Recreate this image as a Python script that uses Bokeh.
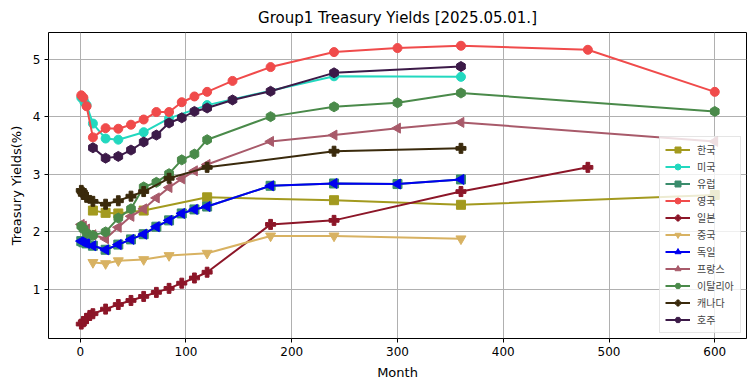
import numpy as np
from bokeh.plotting import figure
from bokeh.models import Range1d, Legend, LegendItem, FixedTicker
from bokeh.embed import file_html
from bokeh.resources import INLINE

# ---- data (months, yields %) ----
kr_m = [12, 24, 36, 60, 120, 240, 360, 600]
kr_y = [2.37, 2.33, 2.32, 2.37, 2.60, 2.55, 2.47, 2.64]

us_m = [1, 2, 3, 4, 6, 12, 24, 36, 60, 84, 120, 240, 360]
us_y = [4.33, 4.32, 4.30, 4.25, 4.20, 3.88, 3.62, 3.60, 3.73, 3.97, 4.20, 4.70, 4.69]

eu_m = [1, 3, 6, 12, 24, 36, 48, 60, 72, 84, 96, 108, 120, 180, 240, 300, 360]
eu_y = [1.84, 1.82, 1.80, 1.76, 1.69, 1.78, 1.87, 1.96, 2.09, 2.20, 2.32, 2.39, 2.44, 2.80, 2.84, 2.83, 2.91]

uk_m = [1, 3, 6, 12, 24, 36, 48, 60, 72, 84, 96, 108, 120, 144, 180, 240, 300, 360, 480, 600]
uk_y = [4.37, 4.33, 4.18, 3.64, 3.80, 3.79, 3.86, 3.95, 4.08, 4.08, 4.25, 4.35, 4.43, 4.62, 4.86, 5.12, 5.19, 5.23, 5.16, 4.43]

jp_m = [1, 3, 6, 9, 12, 24, 36, 48, 60, 72, 84, 96, 108, 120, 180, 240, 360, 480]
jp_y = [0.40, 0.44, 0.50, 0.55, 0.58, 0.66, 0.74, 0.81, 0.88, 0.95, 1.02, 1.11, 1.20, 1.30, 2.13, 2.20, 2.70, 3.12]

cn_m = [12, 24, 36, 60, 84, 120, 180, 240, 360]
cn_y = [1.47, 1.45, 1.50, 1.52, 1.59, 1.63, 1.93, 1.93, 1.88]

de_m = [1, 3, 6, 12, 24, 36, 48, 60, 72, 84, 96, 108, 120, 180, 240, 300, 360]
de_y = [1.84, 1.82, 1.80, 1.76, 1.69, 1.78, 1.87, 1.96, 2.09, 2.20, 2.32, 2.39, 2.44, 2.80, 2.84, 2.83, 2.91]

fr_m = [1, 3, 6, 12, 24, 36, 48, 60, 72, 84, 96, 108, 120, 180, 240, 300, 360, 600]
fr_y = [2.13, 2.10, 2.05, 1.95, 1.88, 2.08, 2.27, 2.40, 2.59, 2.77, 2.92, 3.06, 3.17, 3.57, 3.68, 3.80, 3.90, 3.57]

it_m = [1, 3, 6, 12, 24, 36, 48, 60, 72, 84, 96, 108, 120, 180, 240, 300, 360, 600]
it_y = [2.10, 2.05, 1.98, 1.94, 2.00, 2.24, 2.40, 2.78, 2.86, 3.01, 3.25, 3.35, 3.60, 4.00, 4.17, 4.24, 4.41, 4.09]

ca_m = [1, 2, 3, 6, 12, 24, 36, 48, 60, 84, 120, 240, 360]
ca_y = [2.72, 2.69, 2.65, 2.60, 2.53, 2.48, 2.54, 2.62, 2.70, 2.93, 3.12, 3.40, 3.45]

au_m = [12, 24, 36, 48, 60, 72, 84, 96, 108, 120, 144, 180, 240, 360]
au_y = [3.46, 3.28, 3.31, 3.42, 3.56, 3.68, 3.89, 3.98, 4.09, 4.15, 4.29, 4.44, 4.76, 4.87]

x_ticks = [0, 100, 200, 300, 400, 500, 600]
y_ticks = [1, 2, 3, 4, 5]

series = [
    ("한국", kr_m, kr_y, "#a39a1f", "square", 0.0, 9),
    ("미국", us_m, us_y, "#22d8bf", "circle", 0.0, 9),
    ("유럽", eu_m, eu_y, "#3a8c6c", "square", 0.0, 9),
    ("영국", uk_m, uk_y, "#f04b4b", "circle", 0.0, 9),
    ("일본", jp_m, jp_y, "#8c1628", "plus", 0.0, 10),
    ("중국", cn_m, cn_y, "#d8b262", "inverted_triangle", 0.0, 10),
    ("독일", de_m, de_y, "#0000f0", "triangle", np.pi / 2, 10),
    ("프랑스", fr_m, fr_y, "#a85a6a", "triangle", np.pi / 2, 10),
    ("이탈리아", it_m, it_y, "#4a8a4a", "hex", np.pi / 6, 10),
    ("캐나다", ca_m, ca_y, "#3a2a0c", "plus", 0.0, 10),
    ("호주", au_m, au_y, "#3c1a48", "hex", np.pi / 6, 10),
]

FONT = "DejaVu Sans"

p = figure(width=747, height=383, output_backend="svg", toolbar_location=None,
           x_range=Range1d(-30, 630), y_range=Range1d(0.15, 5.46),
           min_border_left=48, min_border_right=1, min_border_top=31, min_border_bottom=45)

p.title.text = "Group1 Treasury Yields [2025.05.01.]"
p.title.align = "center"
p.title.text_font = FONT
p.title.text_font_size = "15px"
p.title.text_font_style = "normal"
p.title.text_color = "black"
p.title.standoff = 12

p.outline_line_color = "black"
p.outline_line_width = 1
p.outline_line_alpha = 1

for ax in (p.xaxis, p.yaxis):
    ax.axis_line_color = None
    ax.major_tick_out = 4
    ax.major_tick_in = 0
    ax.minor_tick_out = 0
    ax.minor_tick_in = 0
    ax.major_tick_line_color = "black"
    ax.major_label_text_font = FONT
    ax.major_label_text_font_size = "12px"
    ax.major_label_text_color = "black"
    ax.axis_label_text_font = FONT
    ax.axis_label_text_font_size = "13px"
    ax.axis_label_text_font_style = "normal"
    ax.axis_label_text_color = "black"

p.xaxis.ticker = FixedTicker(ticks=x_ticks)
p.yaxis.ticker = FixedTicker(ticks=y_ticks)
p.xaxis.axis_label = "Month"
p.yaxis.axis_label = "Treasury Yields(%)"
p.xaxis.major_label_standoff = 4
p.yaxis.major_label_standoff = 4
p.xaxis.axis_label_standoff = 6
p.yaxis.axis_label_standoff = 6

p.xgrid.grid_line_color = "#b0b0b0"
p.ygrid.grid_line_color = "#b0b0b0"
p.xgrid.grid_line_width = 1
p.ygrid.grid_line_width = 1

items = []
for name, mx, yy, col, mk, ang, sz in series:
    lr = p.line(mx, yy, line_color=col, line_width=2)
    sr = p.scatter(mx, yy, marker=mk, size=sz, angle=ang, fill_color=col, line_color=col)
    items.append(LegendItem(label=name, renderers=[lr, sr]))

legend = Legend(items=items, location="bottom_right")
legend.label_text_font = "Noto Sans CJK KR"
legend.label_text_font_size = "10px"
legend.glyph_width = 25
legend.glyph_height = 15
legend.label_height = 15
legend.label_width = 38
legend.spacing = 2
legend.padding = 5
legend.margin = 5
legend.label_standoff = 7
legend.border_line_color = "#cccccc"
legend.background_fill_alpha = 0.8
p.add_layout(legend)

open("out.html", "w").write(file_html(p, INLINE))
